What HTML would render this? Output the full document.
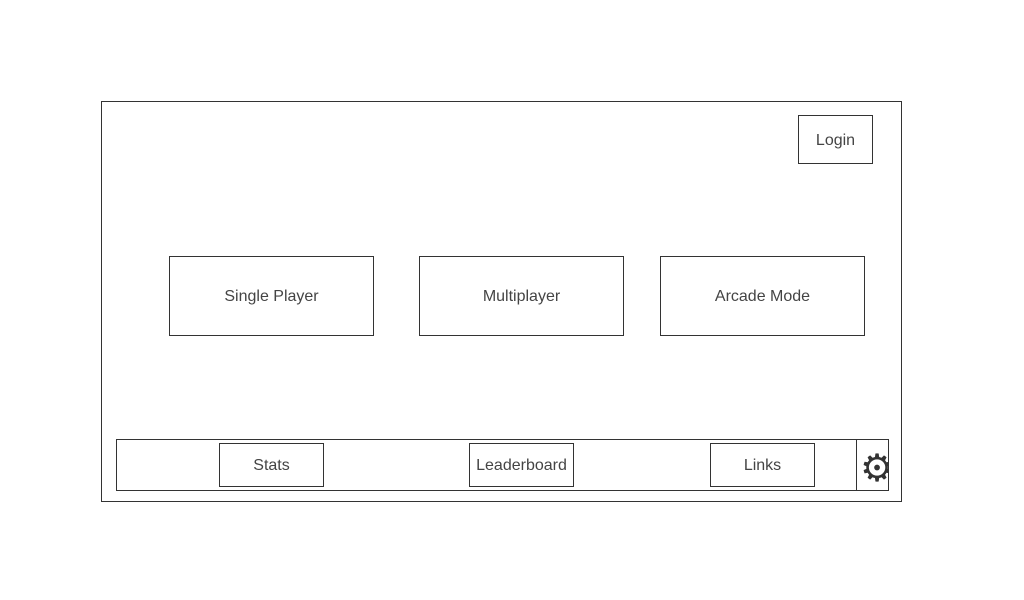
<!DOCTYPE html><html><head><style>
body{margin:0;width:1024px;height:600px;background:#fff;position:relative;overflow:hidden;font-family:"Liberation Sans",sans-serif;font-size:16px;color:#444}
.b{position:absolute;border:1px solid #333;box-sizing:border-box;display:flex;align-items:center;justify-content:center;background:#fff;padding-top:2px}
</style></head><body>
<div class="b" style="left:101px;top:101px;width:801px;height:401px"></div>
<div class="b" style="left:798px;top:115px;width:75px;height:49px">Login</div>
<div class="b" style="left:169px;top:256px;width:205px;height:80px">Single Player</div>
<div class="b" style="left:419px;top:256px;width:205px;height:80px">Multiplayer</div>
<div class="b" style="left:660px;top:256px;width:205px;height:80px">Arcade Mode</div>
<div class="b" style="left:116px;top:439px;width:773px;height:52px"></div>
<div class="b" style="left:219px;top:443px;width:105px;height:44px">Stats</div>
<div class="b" style="left:469px;top:443px;width:105px;height:44px">Leaderboard</div>
<div class="b" style="left:710px;top:443px;width:105px;height:44px">Links</div>
<div style="position:absolute;left:856px;top:439px;width:1px;height:52px;background:#333"></div>
<div style="position:absolute;left:857px;top:440px;width:31px;height:50px;overflow:hidden">
<div style="position:absolute;left:3px;top:7px;font-size:38px;line-height:42px;color:#333;font-family:'DejaVu Sans',sans-serif">⚙</div></div>
</body></html>
